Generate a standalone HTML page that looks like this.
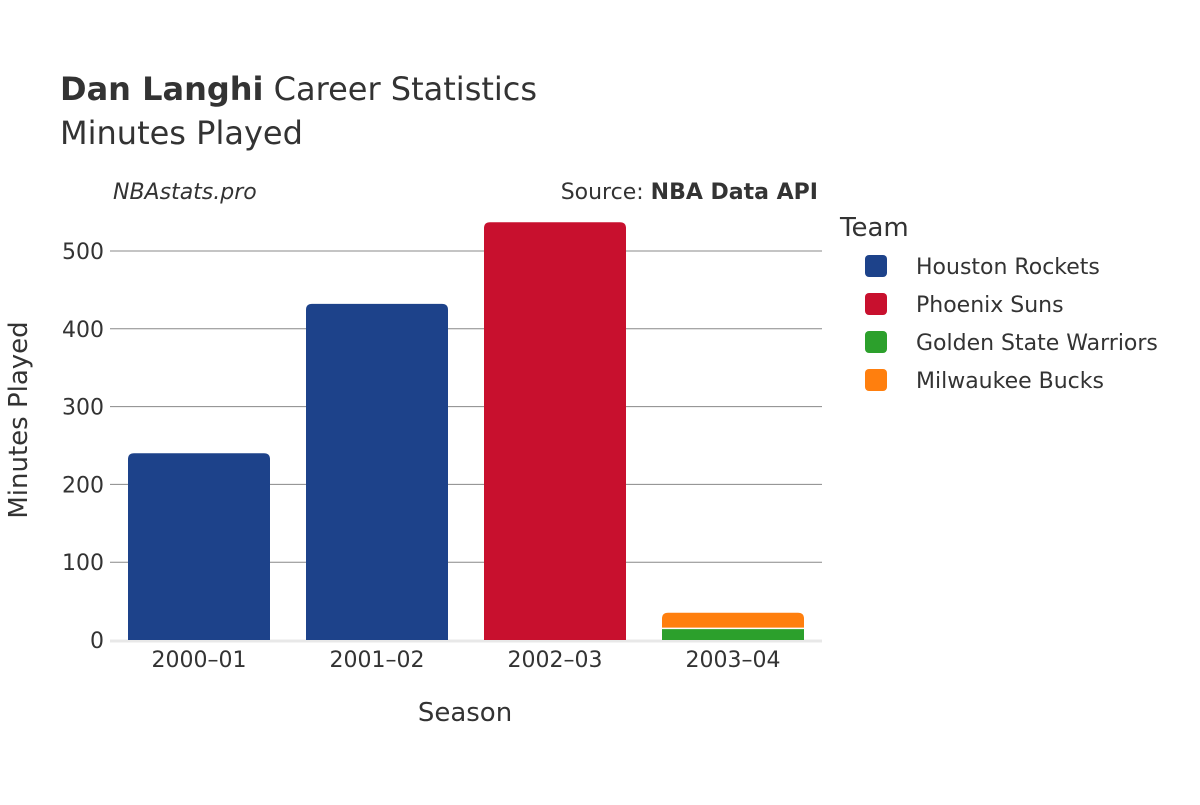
<!DOCTYPE html>
<html><head><meta charset="utf-8"><style>
body{margin:0;background:#fff;font-family:"Liberation Sans","DejaVu Sans",sans-serif;}
svg text{font-family:"DejaVu Sans","Liberation Sans",sans-serif;fill:#333;}
</style></head><body>
<svg id="chart" width="1200" height="800" xmlns="http://www.w3.org/2000/svg">
<text x="60" y="100" font-size="32"><tspan font-weight="bold">Dan Langhi</tspan> Career Statistics</text>
<text x="60" y="144" font-size="32">Minutes Played</text>
<text x="113" y="199" font-size="22" font-style="italic">NBAstats.pro</text>
<text x="818" y="199" font-size="22" text-anchor="end">Source: <tspan font-weight="bold">NBA Data API</tspan></text>
<g id="grid"></g><g id="bars"></g><g id="xt"></g><g id="yt"></g>
<text x="465" y="721" font-size="26" text-anchor="middle">Season</text>
<text transform="translate(27,420) rotate(-90)" font-size="26" text-anchor="middle">Minutes Played</text>
<text x="840" y="236" font-size="26">Team</text>
<g id="legend"></g>
</svg>
<script>
const seasons=["2000–01","2001–02","2002–03","2003–04"];
const teams=["Houston Rockets","Phoenix Suns","Golden State Warriors","Milwaukee Bucks"];
const colors=["#1d428a","#c8102e","#2ca02c","#ff7f0e"];
const houston=[240,432,0,0];
const phoenix=[0,0,537,0];
const gsw=[0,0,0,15];
const mil=[0,0,0,20];
const yTicks=[0,100,200,300,400,500];
const series=[houston,phoenix,gsw,mil];
const NS="http://www.w3.org/2000/svg";
const x0=110,x1=822,y0=640,yMax=500,yTop=251;
const band=(x1-x0)/seasons.length,bw=142;
const y=v=>y0-(v/yMax)*(y0-yTop);
const xc=i=>x0+band*(i+0.5);
function mk(t,a,p){const e=document.createElementNS(NS,t);for(const k in a)e.setAttribute(k,a[k]);document.getElementById(p).appendChild(e);return e;}
yTicks.forEach(t=>{
 if(t>0){const l=mk('line',{x1:x0,x2:x1,y1:y(t),y2:y(t),stroke:'#888','stroke-width':1},'grid');
 
 }
 const tx=mk('text',{x:104,y:y(t)+8,'font-size':22,'text-anchor':'end'},'yt');tx.textContent=t;
 
 
});
const base=mk('line',{x1:x0,x2:x1,y1:y0+1,y2:y0+1,stroke:'#e8e8e8','stroke-width':3},'grid');


seasons.forEach((s,i)=>{
 let cum=0;const segs=[];
 series.forEach((sr,j)=>{if(sr[i]>0){segs.push([j,cum,cum+sr[i]]);cum+=sr[i];}});
 segs.forEach(([j,a,b],k)=>{
  const top=k===segs.length-1;const r=top?6:0;
  const X=xc(i)-bw/2,Y1=y(b),Y0=y(a);
  const d=`M${X},${Y0} L${X},${Y1+r} Q${X},${Y1} ${X+r},${Y1} L${X+bw-r},${Y1} Q${X+bw},${Y1} ${X+bw},${Y1+r} L${X+bw},${Y0} Z`;
  const p=mk('path',{d:d,fill:colors[j],stroke:'#fff','stroke-width':top&&segs.length>1?0:0},'bars');
  
  
  if(k>0){const l=mk('line',{x1:X,x2:X+bw,y1:Y0,y2:Y0,stroke:'#fff','stroke-width':1.5},'bars');
  
  }
 });
 const t=mk('text',{x:xc(i),y:667,'font-size':22,'text-anchor':'middle'},'xt');t.textContent=s;
 
 
});
teams.forEach((tm,j)=>{
 const yy=266+j*38;
 const r=mk('rect',{x:865,y:yy-11,width:22,height:22,rx:4,fill:colors[j]},'legend');
 
 
 const t=mk('text',{x:916,y:yy+8,'font-size':22},'legend');t.textContent=tm;
 
 
});
</script>
</body></html>
